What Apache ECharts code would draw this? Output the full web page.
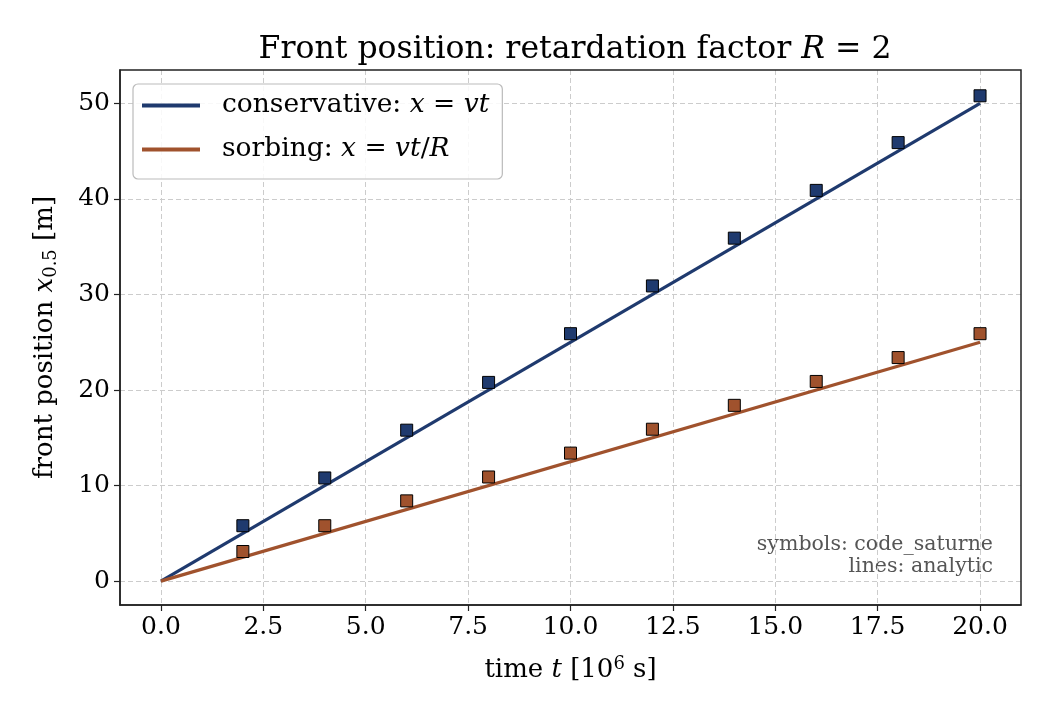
<!DOCTYPE html>
<html>
<head>
<meta charset="utf-8">
<script src="https://cdn.jsdelivr.net/npm/echarts@6/dist/echarts.min.js"></script>
<style>
    html, body { margin: 0; padding: 0; background: #fff; }
    #main { width: 1050px; height: 720px; }
</style>
</head>
<body>
<div id="main"></div>
<script>
// 时间 t [10^6 s]
var simTimes = [2, 4, 6, 8, 10, 12, 14, 16, 18, 20];
// code_saturne 结果
var consSim = [5.8, 10.8, 15.8, 20.8, 25.9, 30.9, 35.9, 40.9, 45.9, 50.8];
var sorbSim = [3.1, 5.8, 8.4, 10.9, 13.4, 15.9, 18.4, 20.9, 23.4, 25.9];
// 解析解
var lineTimes = [0, 20];
var consLine = [0, 50];
var sorbLine = [0, 25];
// 刻度
var xTicks = [0, 2.5, 5, 7.5, 10, 12.5, 15, 17.5, 20];
var yTicks = [0, 10, 20, 30, 40, 50];

var blue = '#1f3a6e';
var brown = '#a0522d';
var font = 'DejaVu Serif';

function pairs (xs, ys) {
    return xs.map(function (x, i) { return [x, ys[i]]; });
}

function mathRich (size) {
    var small = Math.round(size * 0.68);
    return {
        i: { fontFamily: font, fontStyle: 'italic', fontSize: size, color: '#000' },
        n: { fontFamily: font, fontSize: small, color: '#000', padding: [Math.round(size * 0.45), 0, 0, 0] },
        sup: { fontFamily: font, fontSize: small, color: '#000', padding: [0, 0, Math.round(size * 0.45), 0] }
    };
}

var myChart = echarts.init(document.getElementById('main'));
myChart.setOption({
    animation: false,
    backgroundColor: '#fff',
    title: {
        text: 'Front position: retardation factor {i|R}{t| = 2}',
        left: 570,
        textAlign: 'center',
        top: 29,
        textStyle: {
            fontFamily: font,
            fontWeight: 'normal',
            fontSize: 31.5,
            color: '#000',
            rich: {
                i: { fontFamily: font, fontStyle: 'italic', fontSize: 31.5, color: '#000' },
                t: { fontFamily: font, fontSize: 31.5, color: '#000' }
            }
        }
    },
    legend: {
        left: 133,
        top: 84,
        orient: 'vertical',
        data: ['conservative', 'sorbing'],
        itemWidth: 58,
        itemHeight: 4,
        itemGap: 17,
        padding: [8, 13, 16, 9],
        borderColor: '#bbb',
        borderWidth: 1.2,
        borderRadius: 5,
        backgroundColor: 'rgba(255,255,255,0.85)',
        icon: 'rect',
        formatter: function (name) {
            return name === 'conservative'
                ? 'conservative: {i|x} = {i|vt}'
                : 'sorbing: {i|x} = {i|vt}/{i|R}';
        },
        textStyle: {
            fontFamily: font,
            fontSize: 26.5,
            color: '#000',
            padding: [0, 0, 0, 17],
            rich: mathRich(26.5)
        }
    },
    grid: {
        left: 120,
        right: 29,
        top: 70,
        bottom: 115
    },
    xAxis: {
        type: 'value',
        min: -1,
        max: 21,
        name: 'time {i|t} [10{sup|6} s]',
        nameLocation: 'middle',
        nameGap: 50,
        nameTextStyle: {
            fontFamily: font,
            fontSize: 26,
            color: '#000',
            rich: mathRich(26)
        },
        axisLine: { onZero: false, lineStyle: { color: '#222', width: 1.5 } },
        axisTick: { show: true, length: 6, customValues: xTicks, lineStyle: { color: '#222', width: 1.2 } },
        axisLabel: {
            customValues: xTicks,
            fontFamily: font,
            fontSize: 25,
            color: '#000',
            margin: 10,
            formatter: function (v) { return v.toFixed(1); }
        },
        splitLine: { show: true, lineStyle: { color: '#ccc', type: [5, 3], width: 1 } }
    },
    yAxis: {
        type: 'value',
        min: -2.5,
        max: 53.5,
        name: 'front position {i|x}{n|0.5} [m]',
        nameLocation: 'middle',
        nameGap: 60,
        nameRotate: 90,
        nameTextStyle: {
            fontFamily: font,
            fontSize: 26,
            color: '#000',
            rich: mathRich(26)
        },
        axisLine: { onZero: false, lineStyle: { color: '#222', width: 1.5 } },
        axisTick: { show: true, length: 6, customValues: yTicks, lineStyle: { color: '#222', width: 1.2 } },
        axisLabel: {
            customValues: yTicks,
            fontFamily: font,
            fontSize: 25,
            color: '#000',
            margin: 10
        },
        splitLine: { show: true, lineStyle: { color: '#ccc', type: [5, 3], width: 1 } }
    },
    graphic: [
        {
            type: 'rect',
            shape: { x: 120, y: 70, width: 901, height: 535 },
            style: { fill: 'none', stroke: '#222', lineWidth: 1.5 },
            z: 100,
            silent: true
        },
        {
            type: 'text',
            x: 993,
            y: 534,
            style: {
                text: 'symbols: code_saturne\nlines: analytic',
                align: 'right',
                fontFamily: font,
                fontSize: 20.5,
                lineHeight: 22,
                fill: '#555'
            }
        }
    ],
    series: [
        {
            name: 'conservative',
            type: 'line',
            data: pairs(lineTimes, consLine),
            showSymbol: false,
            symbol: 'none',
            lineStyle: { color: blue, width: 3.2 },
            itemStyle: { color: blue },
            z: 2
        },
        {
            name: 'sorbing',
            type: 'line',
            data: pairs(lineTimes, sorbLine),
            showSymbol: false,
            symbol: 'none',
            lineStyle: { color: brown, width: 3.2 },
            itemStyle: { color: brown },
            z: 2
        },
        {
            name: 'conservative sim',
            type: 'scatter',
            data: pairs(simTimes, consSim),
            symbol: 'rect',
            symbolSize: 12,
            itemStyle: { color: blue, borderColor: '#000', borderWidth: 1, opacity: 1 },
            z: 3
        },
        {
            name: 'sorbing sim',
            type: 'scatter',
            data: pairs(simTimes, sorbSim),
            symbol: 'rect',
            symbolSize: 12,
            itemStyle: { color: brown, borderColor: '#000', borderWidth: 1, opacity: 1 },
            z: 3
        }
    ]
});
</script>
</body>
</html>
